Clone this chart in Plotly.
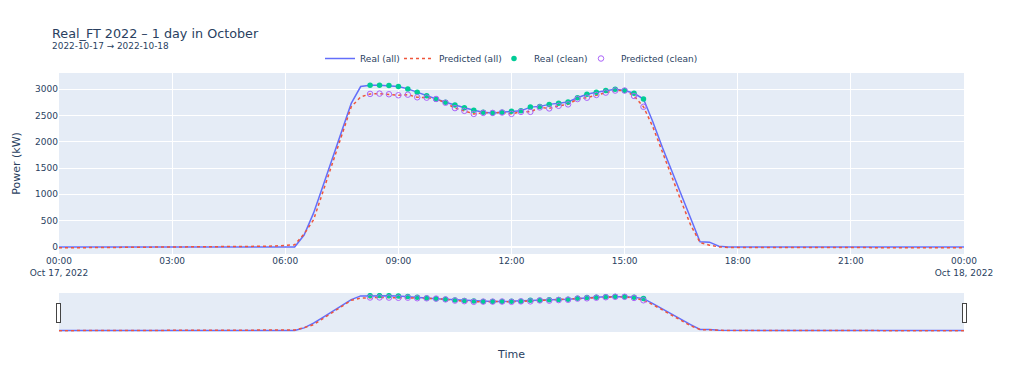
import pandas as pd
import plotly.graph_objects as go

# 15-minute timestamps, 2022-10-17 00:00 to 2022-10-18 00:00
times = pd.date_range("2022-10-17 00:00", "2022-10-18 00:00", freq="15min")
clean_times = pd.date_range("2022-10-17 08:15", "2022-10-17 15:30", freq="15min")

real_clean = [3077, 3077, 3070, 3051, 3006, 2943, 2877, 2808, 2750, 2698,
              2646, 2601, 2563, 2549, 2563, 2582, 2588, 2659, 2673, 2711,
              2731, 2756, 2838, 2904, 2943, 2974, 3000, 2974, 2923, 2813]

pred_clean = [2910, 2916, 2904, 2885, 2896, 2846, 2839, 2814, 2742, 2640,
              2588, 2530, 2549, 2549, 2556, 2530, 2569, 2569, 2653, 2634,
              2684, 2711, 2813, 2838, 2890, 2935, 2974, 2974, 2871, 2665]

real_morning = [0] * 26
real_ramp_up = [225, 642, 1160, 1676, 2200, 2730, 3050]
real_ramp_down = [2376, 1894, 1445, 963, 514, 96, 90, 13]
real_evening = [0] * 26
real_all = real_morning + real_ramp_up + real_clean + real_ramp_down + real_evening

pred_morning = [-18, -17, -17, -16, -16, -15, -15, -14, -14, -13, -12, -12,
                -11, -10, -9, -8, -7, -5, -3, 0, 3, 7, 12, 18, 25, 40]
pred_ramp_up = [245, 514, 1050, 1600, 2150, 2665, 2852]
pred_ramp_down = [2280, 1798, 1316, 867, 418, 83, 33, 0]
pred_evening = [-10, -11, -12, -12, -13, -13, -14, -14, -14, -15, -15, -15, -15,
                -15, -15, -15, -15, -15, -15, -15, -15, -15, -15, -15, -15, -15]
pred_all = pred_morning + pred_ramp_up + pred_clean + pred_ramp_down + pred_evening

fig = go.Figure()
fig.add_trace(go.Scatter(x=times, y=real_all, mode="lines", name="Real (all)",
                         line=dict(color="#636EFA", width=1.5), legendwidth=34))
fig.add_trace(go.Scatter(x=times, y=pred_all, mode="lines", name="Predicted (all)",
                         line=dict(color="#EF553B", width=1.5, dash="dot"), legendwidth=50))
fig.add_trace(go.Scatter(x=clean_times, y=real_clean, mode="markers", name="Real (clean)",
                         marker=dict(color="#00CC96", size=5.5), legendwidth=42))
fig.add_trace(go.Scatter(x=clean_times, y=pred_clean, mode="markers", name="Predicted (clean)",
                         marker=dict(color="#AB63FA", size=5.5, symbol="circle-open")))

fig.update_layout(
    template="plotly",
    width=1008, height=371,
    font=dict(family="DejaVu Sans", size=9),
    title=dict(text="Real_FT 2022 – 1 day in October<br><sup>2022-10-17 → 2022-10-18</sup>",
               font=dict(size=12.75), x=0.0437, y=0.92, yanchor="middle"),
    margin=dict(l=51, r=52, t=65, b=48),
    legend=dict(orientation="h", x=0.5, xanchor="center", y=1.0, yanchor="bottom",
                bgcolor="rgba(0,0,0,0)"),
    xaxis=dict(title="Time", rangeslider=dict(visible=True)),
    yaxis=dict(title=dict(text="Power (kW)", standoff=12), automargin=False,
               dtick=500, range=[-135, 3308]),
)

fig.write_html("out.html")
